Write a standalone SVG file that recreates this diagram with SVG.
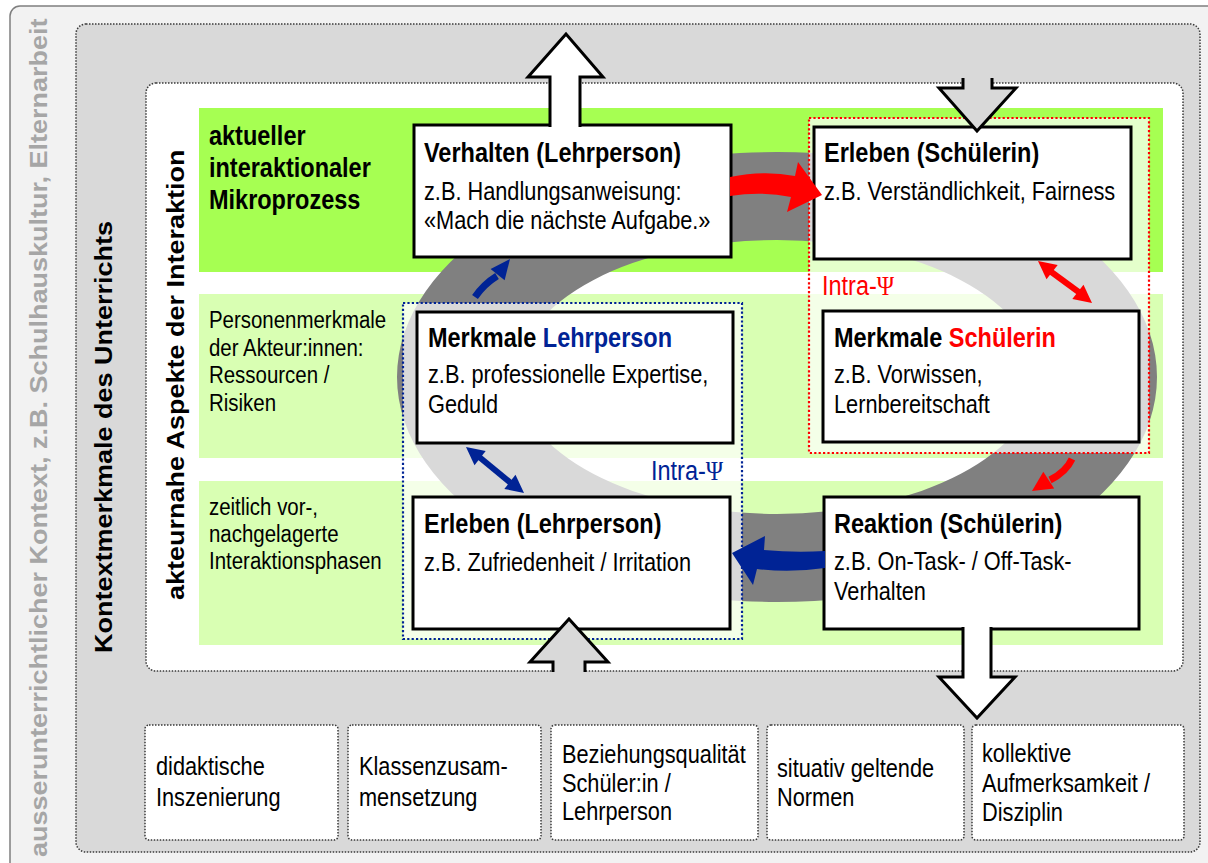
<svg xmlns="http://www.w3.org/2000/svg" width="1208" height="863" viewBox="0 0 1208 863">
<style>
text{font-family:"Liberation Sans",Arial,sans-serif;}
.sq{transform:scaleX(0.87);transform-box:fill-box;transform-origin:0 0;}
.ttl{font-size:27px;font-weight:bold;fill:#000;}
.body{font-size:25px;fill:#000;}
.lab{font-size:23.5px;fill:#000;}
.vt{font-size:27px;font-weight:bold;}
.node{fill:#fff;stroke:#000;stroke-width:3;}
.dot{stroke:#3a3a3a;stroke-width:1.5;stroke-dasharray:1.5 1.5;}
.grp{fill:#fff;fill-opacity:0.7;stroke-width:2.2;stroke-dasharray:2.2 2.2;}
.blk{stroke:#000;stroke-width:3;stroke-linejoin:miter;}
.blue{fill:#002395;}
.red{fill:#ff0000;}
</style>

<g id="outer-context">
<rect x="10" y="6" width="1220" height="880" rx="10" fill="#f2f2f2" stroke="#7f7f7f" stroke-width="1.5"/>
<text class="vt" fill="#a6a6a6" transform="translate(46.5,857) rotate(-90) scale(1,0.87)">ausserunterrichtlicher Kontext, z.B. Schulhauskultur, Elternarbeit</text>
</g>

<g id="teaching-context">
<rect class="dot" x="76" y="24" width="1124" height="828" rx="10" fill="#d9d9d9"/>
<text class="vt" fill="#000" transform="translate(112,653) rotate(-90) scale(1,0.87)">Kontextmerkmale des Unterrichts</text>
</g>

<g id="actor-aspects">
<rect class="dot" x="146" y="83" width="1037" height="588" rx="10" fill="#fff"/>
<text class="vt" fill="#000" transform="translate(184,600) rotate(-90) scale(1,0.87)">akteurnahe Aspekte der Interaktion</text>
</g>

<g id="row-micro">
<rect x="199" y="108" width="964" height="164" fill="#a6ff52"/>
<text class="sq ttl"><tspan x="209" y="145">aktueller</tspan><tspan x="209" y="177">interaktionaler</tspan><tspan x="209" y="209">Mikroprozess</tspan></text>
</g>
<g id="row-person">
<rect x="199" y="294" width="964" height="164" fill="#d9ffb3"/>
<text class="sq lab"><tspan x="209" y="328">Personenmerkmale</tspan><tspan x="209" y="356">der Akteur:innen:</tspan><tspan x="209" y="383">Ressourcen /</tspan><tspan x="209" y="411">Risiken</tspan></text>
</g>
<g id="row-phases">
<rect x="199" y="481" width="964" height="164" fill="#d9ffb3"/>
<text class="sq lab"><tspan x="209" y="515">zeitlich vor-,</tspan><tspan x="209" y="542">nachgelagerte</tspan><tspan x="209" y="569">Interaktionsphasen</tspan></text>
</g>

<g id="cycle-ring">
<path d="M397,377 A380,225 0 1,0 1157,377 A380,225 0 1,0 397,377 Z M517,377 A260,137 0 1,0 1037,377 A260,137 0 1,0 517,377 Z" fill="#808080" fill-rule="evenodd"/>
</g>

<g id="group-student">
<rect class="grp" x="809" y="118" width="340" height="335" stroke="#ff0000"/>
</g>
<g id="group-teacher">
<rect class="grp" x="403" y="303" width="339" height="336" stroke="#002395"/>
</g>

<g id="node-verhalten-lehrperson">
<rect class="node" x="414" y="125" width="317" height="132"/>
<text class="sq ttl" x="424" y="162">Verhalten (Lehrperson)</text>
<text class="sq body"><tspan x="424" y="200">z.B. Handlungsanweisung:</tspan><tspan x="424" y="229">«Mach die nächste Aufgabe.»</tspan></text>
</g>
<g id="node-erleben-schuelerin">
<rect class="node" x="814" y="127" width="317" height="132"/>
<text class="sq ttl" x="824" y="162">Erleben (Schülerin)</text>
<text class="sq body" x="824" y="200">z.B. Verständlichkeit, Fairness</text>
</g>
<g id="node-merkmale-lehrperson">
<rect class="node" x="417" y="312" width="316" height="131"/>
<text class="sq ttl" x="428" y="347">Merkmale <tspan class="blue">Lehrperson</tspan></text>
<text class="sq body"><tspan x="428" y="383">z.B. professionelle Expertise,</tspan><tspan x="428" y="413">Geduld</tspan></text>
</g>
<g id="node-merkmale-schuelerin">
<rect class="node" x="823" y="311" width="316" height="131"/>
<text class="sq ttl" x="834" y="347">Merkmale <tspan class="red">Schülerin</tspan></text>
<text class="sq body"><tspan x="834" y="383">z.B. Vorwissen,</tspan><tspan x="834" y="413">Lernbereitschaft</tspan></text>
</g>
<g id="node-erleben-lehrperson">
<rect class="node" x="413" y="497" width="317" height="132"/>
<text class="sq ttl" x="424" y="533">Erleben (Lehrperson)</text>
<text class="sq body" x="424" y="571">z.B. Zufriedenheit / Irritation</text>
</g>
<g id="node-reaktion-schuelerin">
<rect class="node" x="824" y="497" width="315" height="132"/>
<text class="sq ttl" x="834" y="533">Reaktion (Schülerin)</text>
<text class="sq body"><tspan x="834" y="570">z.B. On-Task- / Off-Task-</tspan><tspan x="834" y="600">Verhalten</tspan></text>
</g>

<g id="ctx-didaktik">
<rect class="dot" x="145" y="725" width="193" height="115" rx="4" fill="#fff"/>
<text class="sq body"><tspan x="156" y="775">didaktische</tspan><tspan x="156" y="806">Inszenierung</tspan></text>
</g>
<g id="ctx-klasse">
<rect class="dot" x="348" y="725" width="193" height="115" rx="4" fill="#fff"/>
<text class="sq body"><tspan x="359" y="775">Klassenzusam-</tspan><tspan x="359" y="806">mensetzung</tspan></text>
</g>
<g id="ctx-beziehung">
<rect class="dot" x="551" y="725" width="207" height="115" rx="4" fill="#fff"/>
<text class="sq body"><tspan x="562" y="763">Beziehungsqualität</tspan><tspan x="562" y="792">Schüler:in /</tspan><tspan x="562" y="820">Lehrperson</tspan></text>
</g>
<g id="ctx-normen">
<rect class="dot" x="767" y="725" width="197" height="115" rx="4" fill="#fff"/>
<text class="sq body"><tspan x="777" y="777">situativ geltende</tspan><tspan x="777" y="806">Normen</tspan></text>
</g>
<g id="ctx-disziplin">
<rect class="dot" x="972" y="725" width="212" height="115" rx="4" fill="#fff"/>
<text class="sq body"><tspan x="982" y="762">kollektive</tspan><tspan x="982" y="792">Aufmerksamkeit /</tspan><tspan x="982" y="821">Disziplin</tspan></text>
</g>

<g id="connectors">
<path class="blk" d="M550,127 V77 H528 L566,34 L603,77 H580 V127" fill="#fff"/>
<path class="blk" d="M963,78 V88 H939 L977,131 L1016,88 H992 V78" fill="#d9d9d9"/>
<path class="blk" d="M553,672 V662 H530 L569,619 L608,662 H585 V672" fill="#d9d9d9"/>
<path class="blk" d="M963,627 V677 H939 L977,718 L1015,677 H991 V627" fill="#fff"/>
<path d="M730,177 Q764,170 795,176 L798,162 L822,195 L787,212 L791,197 Q762,191 730,196 Z" fill="#ff0000"/>
<line x1="1050" y1="271" x2="1080" y2="293" stroke="#ff0000" stroke-width="6"/>
<polygon points="1038,261 1046.5,279.3 1057.7,265.1" fill="#ff0000"/>
<polygon points="1092,303 1072.3,298.9 1083.5,284.7" fill="#ff0000"/>
<path d="M1072,459 Q1066,472 1050,480" fill="none" stroke="#ff0000" stroke-width="7"/>
<polygon points="1032,491 1054.2,488.5 1043.3,471.7" fill="#ff0000"/>
<path d="M825,551 Q795,553 764,550 L765,536 L732,553 L753,585 L757,569 Q790,573 825,568 Z" fill="#002395"/>
<line x1="478" y1="456" x2="512" y2="484" stroke="#002395" stroke-width="6"/>
<polygon points="466,447 474.5,465.3 485.7,451.1" fill="#002395"/>
<polygon points="524,493 504.3,488.9 515.5,474.7" fill="#002395"/>
<path d="M475,297 Q484,284 497,276" fill="none" stroke="#002395" stroke-width="7"/>
<polygon points="510,259 504.6,280.2 490.6,269" fill="#002395"/>
</g>

<g id="label-intra-student">
<text class="sq" x="822" y="295" font-size="27" fill="#ff0000">Intra-<tspan font-family="Liberation Serif,serif">Ψ</tspan></text>
</g>
<g id="label-intra-teacher">
<text class="sq" x="651" y="480" font-size="27" fill="#002395">Intra-<tspan font-family="Liberation Serif,serif">Ψ</tspan></text>
</g>
</svg>
